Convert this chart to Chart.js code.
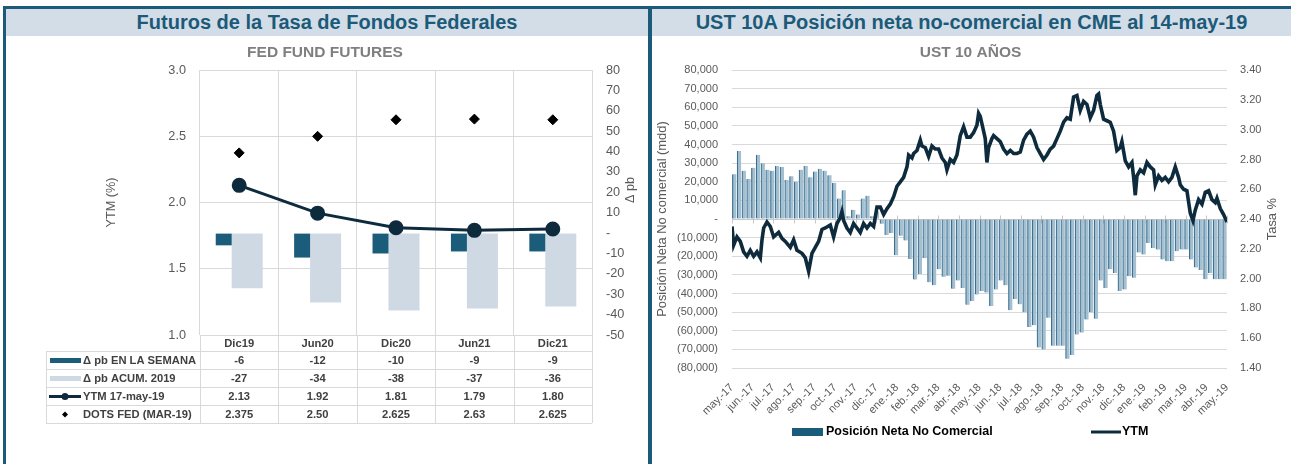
<!DOCTYPE html>
<html>
<head>
<meta charset="utf-8">
<script src="https://cdn.jsdelivr.net/npm/chart.js@4.4.1/dist/chart.umd.min.js"></script>
<style>
  body { margin: 0; background: #fff; width: 1291px; height: 464px; overflow: hidden; position: relative; font-family: Arial, "Liberation Sans", sans-serif; }
  .frame { position: absolute; background: #1b5a78; z-index: 3; }
  .band { position: absolute; top: 9px; height: 27px; background: #d3dde8; color: #1b5a78; font-weight: bold; font-size: 20px; line-height: 27px; text-align: center; white-space: nowrap; }
  canvas { position: absolute; top: 36px; }
</style>
</head>
<body>
<div class="band" style="left:6px;width:642px">Futuros de la Tasa de Fondos Federales</div>
<div class="band" style="left:652px;width:639px">UST 10A Posición neta no-comercial en CME al 14-may-19</div>
<div class="frame" style="left:3px;top:6px;width:1288px;height:3px"></div>
<div class="frame" style="left:3px;top:6px;width:3px;height:458px"></div>
<div class="frame" style="left:648px;top:6px;width:4px;height:458px"></div>
<canvas id="fedChart" width="650" height="428" style="left:0"></canvas>
<canvas id="ustChart" width="641" height="428" style="left:650px"></canvas>
<script>
const FONT = 'Arial, "Liberation Sans", sans-serif';
const GRID = '#d9d9d9';
const TICK = '#595959';
const TEAL = '#1b5c7b';
const LIGHT = '#cfd9e4';
const NAVY = '#0e2b3d';

// --- Futuros de la tasa de fondos federales ---
const fedCats = ['Dic19', 'Jun20', 'Dic20', 'Jun21', 'Dic21'];
const pbSemana = [-6, -12, -10, -9, -9];
const pbAcum = [-27, -34, -38, -37, -36];
const ytm17May = [2.13, 1.92, 1.81, 1.79, 1.80];
const dotsFed = [2.375, 2.50, 2.625, 2.63, 2.625];
const dotsFedText = ['2.375', '2.50', '2.625', '2.63', '2.625'];

// --- UST 10 años: posición neta semanal y YTM ---
const ustMonths = ['may.-17', 'jun.-17', 'jul.-17', 'ago.-17', 'sep.-17', 'oct.-17', 'nov.-17', 'dic.-17',
  'ene.-18', 'feb.-18', 'mar.-18', 'abr.-18', 'may.-18', 'jun.-18', 'jul.-18', 'ago.-18', 'sep.-18',
  'oct.-18', 'nov.-18', 'dic.-18', 'ene.-19', 'feb.-19', 'mar.-19', 'abr.-19', 'may.-19'];
const netPosition = [
  24000, 36500, 26000, 21500, 27500, 34500, 30000, 26500, 26000, 28500,
  28000, 21000, 23000, 20000, 26500, 28500, 22500, 25500, 27000, 26000,
  23500, 19500, 11000, 15500, 1500, 5000, 2500, 11000, 12500, 1500,
  4000, -2500, -8500, -7500, -19500, -9000, -11500, -21500, -32500, -29500,
  -21000, -34000, -35500, -27000, -31000, -30500, -37500, -33000, -37000, -46000,
  -44000, -40500, -38700, -39500, -46700, -37800, -33000, -35600, -49000, -43000,
  -45800, -50000, -58000, -57000, -69000, -70000, -53000, -68000, -68000, -68000,
  -75000, -73000, -62000, -61000, -54000, -50000, -53500, -33000, -37000, -27000,
  -29000, -38700, -37800, -30700, -31500, -18000, -19000, -12800, -15500, -16400,
  -21700, -22600, -22600, -17300, -16400, -16400, -21700, -26000, -27400, -32400,
  -29000, -32400, -32400, -32400
];
const ytmWeeks = [
  0, 0.35, 1.04, 1.74, 2.44, 3.14, 3.84, 4.55, 5.25, 5.95, 6.3, 6.65, 7.35, 8.05, 8.75, 9.8, 10.5, 11.2, 12.25, 12.95,
  13.65, 14.7, 15.4, 16.1, 16.8, 17.5, 18.2, 18.9, 19.6, 20.65, 21.35, 22.05, 22.75, 23.1, 23.45, 24.15, 24.85, 25.55, 26.25, 26.95,
  27.65, 28.36, 29.06, 29.76, 30.46, 31.16, 31.86, 32.56, 33.26, 33.96, 34.66, 35.36, 36.06, 36.76, 37.11, 37.81, 38.16, 38.86, 39.56, 39.91,
  40.61, 41.31, 42.01, 42.71, 43.41, 44.11, 44.81, 45.16, 45.86, 46.56, 47.26, 47.96, 48.66, 49.36, 50.06,
  50.76, 51.46, 51.81, 52.16, 52.86, 53.21, 53.56, 53.91, 54.61, 54.96, 55.66, 56.36, 57.06, 57.77, 58.47, 59.17, 59.87, 60.57, 61.27, 61.97,
  62.67, 63.37, 64.07, 64.77, 65.47, 66.17, 66.87, 67.57, 68.27, 68.97, 69.67, 70.37, 71.07, 71.77, 72.47, 73.17, 73.87, 74.57, 75.27, 75.97,
  76.67, 77.02, 77.37, 78.07, 78.77, 79.47, 80.17, 80.87, 81.57, 81.92, 82.63, 83.33, 84.03, 84.38, 84.73, 85.08, 85.78, 86.48, 87.18, 87.88,
  88.58, 88.93, 89.63, 90.33, 91.03, 91.73, 92.43, 93.13, 93.83, 94.18, 94.88, 95.58, 96.28, 96.84, 97.33, 98.03, 98.74, 99.44, 100.14, 100.84,
  101.54, 101.89, 102.59, 103.29, 103.99
];
const ytmValues = [
  2.35, 2.225, 2.28, 2.25, 2.18, 2.15, 2.19, 2.15, 2.18, 2.14, 2.26, 2.34, 2.38, 2.35, 2.28, 2.31, 2.27, 2.25, 2.21, 2.26,
  2.19, 2.17, 2.14, 2.05, 2.17, 2.21, 2.25, 2.33, 2.34, 2.36, 2.28, 2.37, 2.41, 2.45, 2.39, 2.34, 2.31, 2.37, 2.34, 2.31,
  2.37, 2.34, 2.37, 2.35, 2.48, 2.48, 2.43, 2.47, 2.50, 2.55, 2.62, 2.65, 2.68, 2.75, 2.83, 2.81, 2.84, 2.86, 2.93, 2.89,
  2.88, 2.82, 2.89, 2.87, 2.87, 2.81, 2.78, 2.73, 2.80, 2.78, 2.83, 2.96, 3.02, 2.95, 2.95,
  2.98, 3.03, 3.11, 3.09, 2.99, 2.94, 2.78, 2.88, 2.94, 2.96, 2.94, 2.92, 2.87, 2.84, 2.86, 2.84, 2.84, 2.85, 2.93, 2.97,
  2.99, 2.95, 2.88, 2.84, 2.80, 2.83, 2.87, 2.89, 2.94, 2.99, 3.05, 3.08, 3.07, 3.22, 3.23, 3.13, 3.19, 3.17, 3.08, 3.13,
  3.23, 3.24, 3.17, 3.07, 3.06, 3.05, 2.99, 2.86, 2.88, 2.92, 2.79, 2.75, 2.78, 2.68, 2.56, 2.69, 2.73, 2.71, 2.78, 2.75,
  2.73, 2.63, 2.69, 2.66, 2.68, 2.65, 2.68, 2.75, 2.68, 2.63, 2.60, 2.59, 2.44, 2.39, 2.46, 2.53, 2.50, 2.58, 2.59, 2.53,
  2.51, 2.54, 2.47, 2.43, 2.38
];

// rows of the data table under the FED chart
const tableRows = [
  { label: 'Δ pb EN LA SEMANA', key: 'bar', color: TEAL, cells: pbSemana.map(String) },
  { label: 'Δ pb ACUM. 2019', key: 'bar', color: LIGHT, cells: pbAcum.map(String) },
  { label: 'YTM 17-may-19', key: 'line', color: NAVY, cells: ytm17May.map(v => v.toFixed(2)) },
  { label: 'DOTS FED (MAR-19)', key: 'dot', color: '#000', cells: dotsFedText }
];

function fmtPos(v) {
  if (v === 0) return '-';
  const s = Math.abs(v).toLocaleString('en-US');
  return v < 0 ? '(' + s + ')' : s;
}

const fedTable = {
  id: 'fedTable',
  afterDraw(chart) {
    const { ctx, chartArea: a, scales: { x } } = chart;
    const left = 46, headH = 16, rowH = 18;
    const bottom = a.bottom + headH + rowH * tableRows.length;
    const step = x.getPixelForValue(1) - x.getPixelForValue(0);
    ctx.save();
    ctx.strokeStyle = GRID;
    ctx.lineWidth = 1;
    ctx.beginPath();
    for (let r = 0; r <= tableRows.length; r++) {
      const py = Math.round(a.bottom + headH + rowH * r) + 0.5;
      ctx.moveTo(left, py); ctx.lineTo(a.right, py);
    }
    ctx.moveTo(left + 0.5, a.bottom + headH); ctx.lineTo(left + 0.5, bottom);
    for (let i = 0; i <= fedCats.length; i++) {
      const px = Math.round(x.getPixelForValue(0) - step / 2 + step * i) + 0.5;
      ctx.moveTo(px, a.bottom); ctx.lineTo(px, bottom);
    }
    ctx.stroke();

    ctx.fillStyle = '#404040';
    ctx.font = 'bold 11.2px ' + FONT;
    ctx.textBaseline = 'middle';
    ctx.textAlign = 'center';
    fedCats.forEach((c, i) => ctx.fillText(c, x.getPixelForValue(i), a.bottom + headH / 2 + 1));
    tableRows.forEach((row, r) => {
      const cy = a.bottom + headH + rowH * r + rowH / 2 + 0.5;
      ctx.textAlign = 'center';
      ctx.fillStyle = '#404040';
      row.cells.forEach((t, i) => ctx.fillText(t, x.getPixelForValue(i), cy));
      ctx.textAlign = 'left';
      ctx.fillText(row.label, 83, cy);
      ctx.fillStyle = row.color;
      ctx.strokeStyle = row.color;
      if (row.key === 'bar') {
        ctx.fillRect(50, cy - 2.5, 31, 5);
      } else if (row.key === 'line') {
        ctx.lineWidth = 3;
        ctx.beginPath(); ctx.moveTo(49, cy); ctx.lineTo(81, cy); ctx.stroke();
        ctx.beginPath(); ctx.arc(65, cy, 3.5, 0, Math.PI * 2); ctx.fill();
      } else {
        ctx.beginPath();
        ctx.moveTo(65, cy - 3); ctx.lineTo(68, cy); ctx.lineTo(65, cy + 3); ctx.lineTo(62, cy);
        ctx.closePath(); ctx.fill();
      }
    });
    ctx.restore();
  }
};

// right-hand axis titles read bottom-to-top, as in the original
const rightTitle = {
  id: 'rightTitle',
  afterDraw(chart, args, opts) {
    const { ctx, chartArea: a, scales: { y1 } } = chart;
    ctx.save();
    ctx.translate(y1.right - opts.inset, opts.y != null ? opts.y : (a.top + a.bottom) / 2);
    ctx.rotate(-Math.PI / 2);
    ctx.font = opts.size + 'px ' + FONT;
    ctx.fillStyle = TICK;
    ctx.textAlign = 'center';
    ctx.textBaseline = 'middle';
    ctx.fillText(opts.text, 0, 0);
    ctx.restore();
  }
};

const zeroAxis = {
  id: 'zeroAxis',
  beforeDatasetsDraw(chart) {
    const { ctx, chartArea: a, scales: { x, y } } = chart;
    const y0 = Math.round(y.getPixelForValue(0)) + 0.5;
    ctx.save();
    ctx.strokeStyle = '#c8c8c8';
    ctx.lineWidth = 1;
    ctx.beginPath();
    ctx.moveTo(a.left, y0); ctx.lineTo(a.right, y0);
    x.ticks.forEach(t => {
      const px = Math.round(x.getPixelForValue(t.value)) + 0.5;
      ctx.moveTo(px, y0 - 4); ctx.lineTo(px, y0 + 4);
    });
    ctx.stroke();
    ctx.restore();
  }
};

const ustLegend = {
  id: 'ustLegend',
  afterDraw(chart) {
    const { ctx } = chart;
    const [line, bars] = chart.data.datasets;
    const y = 396;
    ctx.save();
    ctx.font = 'bold 12.5px ' + FONT;
    ctx.textBaseline = 'middle';
    ctx.textAlign = 'left';
    ctx.fillStyle = TEAL;
    ctx.fillRect(142, y - 4, 31, 8);
    ctx.fillStyle = '#000';
    ctx.fillText(bars.label, 176, y);
    ctx.strokeStyle = line.borderColor;
    ctx.lineWidth = 3;
    ctx.beginPath(); ctx.moveTo(441, y); ctx.lineTo(471, y); ctx.stroke();
    ctx.fillText(line.label, 472, y);
    ctx.restore();
  }
};

const tickFont = size => ({ family: FONT, size });

new Chart(document.getElementById('fedChart'), {
  type: 'bar',
  data: {
    labels: fedCats,
    datasets: [
      { label: 'Δ pb EN LA SEMANA', data: pbSemana, yAxisID: 'y1', backgroundColor: TEAL, order: 2,
        categoryPercentage: 0.79, barPercentage: 0.516 },
      { label: 'Δ pb ACUM. 2019', data: pbAcum, yAxisID: 'y1', backgroundColor: LIGHT, order: 2,
        categoryPercentage: 0.408, barPercentage: 1.94 },
      { type: 'line', label: 'YTM 17-may-19', data: ytm17May, yAxisID: 'y', borderColor: NAVY, backgroundColor: NAVY,
        borderWidth: 3, pointRadius: 6, pointHoverRadius: 6, order: 1 },
      { type: 'line', label: 'DOTS FED (MAR-19)', data: dotsFed, yAxisID: 'y', showLine: false, pointStyle: 'rectRot',
        pointRadius: 5, pointHoverRadius: 5, backgroundColor: '#000', borderColor: '#000', order: 0 }
    ]
  },
  options: {
    responsive: false,
    animation: false,
    layout: { padding: { left: 0, right: 0, top: 0, bottom: 129 } },
    plugins: {
      legend: { display: false },
      tooltip: { enabled: false },
      title: { display: true, text: 'FED FUND FUTURES', color: '#7f7f7f',
        font: { family: FONT, size: 15.5, weight: 'bold' }, padding: { top: 7, bottom: 8.5 } },
      rightTitle: { text: 'Δ pb', inset: 20, y: 154, size: 12.7 }
    },
    scales: {
      x: { offset: true, grid: { offset: true, color: GRID, drawTicks: false }, border: { display: false },
        ticks: { display: false }, afterFit: s => { s.height = 0; } },
      y: { position: 'left', min: 1, max: 3,
        ticks: { stepSize: 0.5, padding: 14, color: TICK, font: tickFont(12.7), callback: v => v.toFixed(1) },
        grid: { color: GRID, drawTicks: false }, border: { display: false },
        title: { display: true, text: 'YTM (%)', color: TICK, font: tickFont(12.7), padding: { top: 104, bottom: 0 } },
        afterFit: s => { s.width = 200; } },
      y1: { position: 'right', min: -50, max: 80,
        ticks: { stepSize: 10, padding: 14, color: TICK, font: tickFont(12.7), callback: v => v === 0 ? '-' : v },
        grid: { drawOnChartArea: false, drawTicks: false }, border: { display: false },
        afterFit: s => { s.width = 58; } }
    }
  },
  plugins: [fedTable, rightTitle]
});

new Chart(document.getElementById('ustChart'), {
  type: 'bar',
  data: {
    datasets: [
      { type: 'line', label: 'YTM', data: ytmWeeks.map((w, i) => ({ x: w, y: ytmValues[i] })), yAxisID: 'y1',
        borderColor: NAVY, borderWidth: 3.6, pointRadius: 0, tension: 0, order: 0 },
      { label: 'Posición Neta No Comercial', data: netPosition.map((v, i) => ({ x: i + 0.5, y: v })), yAxisID: 'y',
        backgroundColor: '#a3bfd0', borderColor: '#3b7092', borderWidth: { left: 1.2, right: 0, top: 0, bottom: 0 },
        borderSkipped: false, barThickness: 4, order: 1 }
    ]
  },
  options: {
    responsive: false,
    animation: false,
    layout: { padding: 0 },
    plugins: {
      legend: { display: false },
      tooltip: { enabled: false },
      title: { display: true, text: 'UST 10 AÑOS', color: '#7f7f7f',
        font: { family: FONT, size: 15.5, weight: 'bold' }, padding: { top: 7, bottom: 8.5 } },
      rightTitle: { text: 'Tasa %', inset: 19, size: 12.9 }
    },
    scales: {
      x: { type: 'linear', min: 0, max: netPosition.length, offset: false,
        grid: { display: false }, border: { display: false },
        afterBuildTicks: s => { s.ticks = ustMonths.map((m, i) => ({ value: i * netPosition.length / (ustMonths.length - 1) })); },
        ticks: { autoSkip: false, minRotation: 45, maxRotation: 45, padding: 5, color: TICK, font: tickFont(11),
          callback: (v, i) => ustMonths[i] },
        afterFit: s => { s.height = 96; } },
      y: { position: 'left', min: -80000, max: 80000,
        ticks: { stepSize: 10000, padding: 14, color: TICK, font: tickFont(11), callback: fmtPos },
        grid: { color: GRID, drawTicks: false }, border: { display: false },
        title: { display: true, text: 'Posición Neta No comercial (mdd)', color: TICK, font: tickFont(12.9), padding: { top: 5, bottom: 0 } },
        afterFit: s => { s.width = 82; } },
      y1: { position: 'right', min: 1.4, max: 3.4,
        ticks: { stepSize: 0.2, padding: 13, color: TICK, font: tickFont(11), callback: v => v.toFixed(2) },
        grid: { drawOnChartArea: false, drawTicks: false }, border: { display: false },
        afterFit: s => { s.width = 64; } }
    }
  },
  plugins: [zeroAxis, ustLegend, rightTitle]
});
</script>
</body>
</html>
